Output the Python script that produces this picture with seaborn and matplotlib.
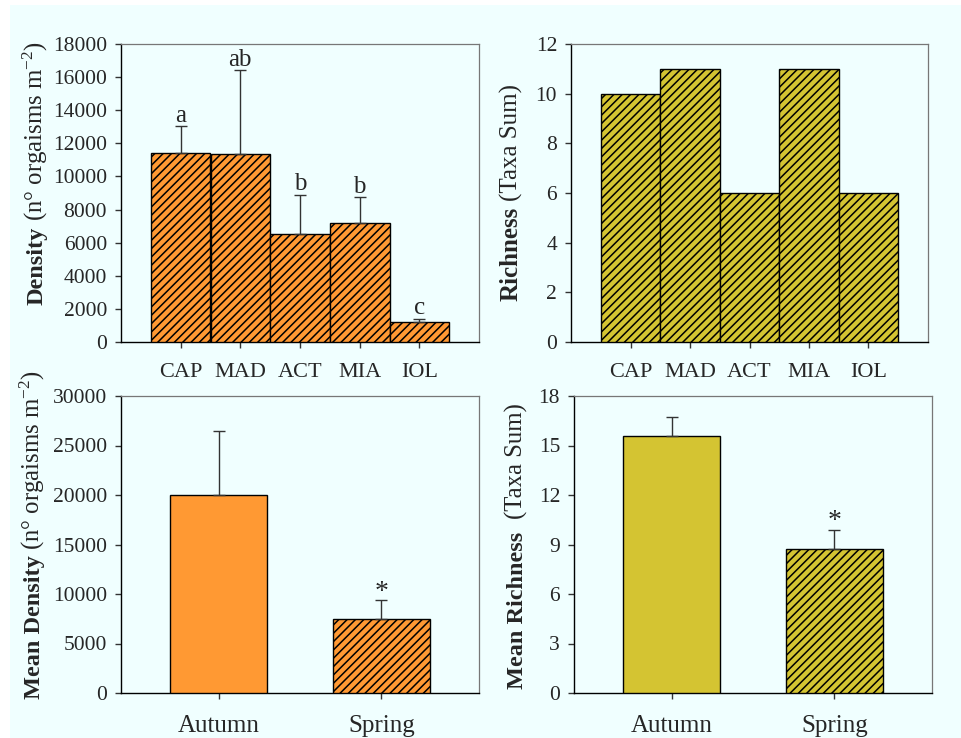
import numpy as np
import pandas as pd
import matplotlib
matplotlib.use("Agg")
import matplotlib.pyplot as plt
import seaborn as sns
from matplotlib.patches import Rectangle

# ---------------- data ----------------
sites = ["CAP", "MAD", "ACT", "MIA", "IOL"]
density = [11430, 11380, 6500, 7210, 1210]
density_err = [1620, 5020, 2400, 1530, 200]
density_letters = ["a", "ab", "b", "b", "c"]
richness = [10, 11, 6, 11, 6]

seasons = ["Autumn", "Spring"]
mean_density = [20000, 7500]
mean_density_err = [6500, 1900]
mean_richness = [15.55, 8.75]
mean_richness_err = [1.2, 1.15]
season_marks = ["", "*"]

ORANGE = "#FF9933"
OLIVE = "#D4C432"
BG = "#F0FFFF"

sns.set_style("white")
plt.rcParams["font.family"] = ["Liberation Serif", "DejaVu Serif"]
plt.rcParams["mathtext.fontset"] = "custom"
plt.rcParams["mathtext.rm"] = "Liberation Serif"
plt.rcParams["mathtext.it"] = "Liberation Serif:italic"
plt.rcParams["mathtext.bf"] = "Liberation Serif:bold"
plt.rcParams["hatch.linewidth"] = 1.1

W, H = 961, 738
fig = plt.figure(figsize=(W / 100, H / 100), dpi=100)
fig.patch.set_facecolor("white")
fig.add_artist(Rectangle((10 / W, 0), 1 - 10 / W, 1 - 5 / H, transform=fig.transFigure,
                         facecolor=BG, edgecolor="none", zorder=0))


def make_ax(l, r, t, b):
    return fig.add_axes([l / W, (H - b) / H, (r - l) / W, (b - t) / H])


def style(ax):
    ax.set_facecolor(BG)
    for s in ["left", "bottom"]:
        ax.spines[s].set_color("black")
        ax.spines[s].set_linewidth(1.0)
    for s in ["top", "right"]:
        ax.spines[s].set_color("#777777")
        ax.spines[s].set_linewidth(0.9)
    ax.tick_params(axis="both", which="both", direction="out", length=4, width=1,
                   color="#333333", left=True, bottom=True, right=False, top=False)
    ax.tick_params(axis="y", labelsize=15.5, pad=6)
    ax.set_xlabel("")
    ax.set_ylabel("")


def upper_err(ax, x, y, e):
    ax.errorbar(x, y, yerr=[np.zeros(len(e)), e], fmt="none", ecolor="#333333",
                elinewidth=1.0, capsize=4.5, capthick=1.0, zorder=5)


def two_part_label(x_px, bold_end_px, rest_start_px, bold, rest, bsize=17.5, rsize=17.8):
    fig.text(x_px / W, (H - bold_end_px) / H, bold, rotation=90, rotation_mode="anchor",
             ha="right", va="baseline", fontsize=bsize, fontweight="bold")
    fig.text(x_px / W, (H - rest_start_px) / H, rest, rotation=90, rotation_mode="anchor",
             ha="left", va="baseline", fontsize=rsize)


# ---- top left: density per site ----
ax1 = make_ax(121, 479, 44, 342)
sns.barplot(x=sites, y=density, ax=ax1, width=1.0, color=ORANGE, saturation=1,
            edgecolor="black", linewidth=1.0, hatch="////", errorbar=None, zorder=3)
upper_err(ax1, np.arange(len(sites)), density, density_err)
for i, (v, e, lab) in enumerate(zip(density, density_err, density_letters)):
    ax1.annotate(lab, (i, v + e), xytext=(0, 3), textcoords="offset points",
                 ha="center", va="baseline", fontsize=18)
ax1.set_xlim(-1, len(sites))
ax1.set_ylim(0, 18000)
ax1.set_yticks(np.arange(0, 18001, 2000))
style(ax1)
ax1.tick_params(axis="x", labelsize=16, pad=11)
two_part_label(43, 227, 221, "Density", "(n° orgaisms m$^{-2}$)")

# ---- top right: richness per site ----
ax2 = make_ax(571, 928, 44, 342)
sns.barplot(x=sites, y=richness, ax=ax2, width=1.0, color=OLIVE, saturation=1,
            edgecolor="black", linewidth=1.0, hatch="////", errorbar=None, zorder=3)
ax2.set_xlim(-1, len(sites))
ax2.set_ylim(0, 12)
ax2.set_yticks(np.arange(0, 13, 2))
style(ax2)
ax2.tick_params(axis="x", labelsize=16, pad=11)
two_part_label(518, 207, 201, "Richness", "(Taxa Sum)", bsize=18, rsize=18)

# ---- bottom left: mean density per season ----
ax3 = make_ax(121, 479, 396, 693)
sns.barplot(x=seasons, y=mean_density, ax=ax3, width=0.6, color=ORANGE, saturation=1,
            edgecolor="black", linewidth=1.0, errorbar=None, zorder=3)
ax3.patches[1].set_hatch("////")
upper_err(ax3, np.arange(len(seasons)), mean_density, mean_density_err)
for i, (v, e, lab) in enumerate(zip(mean_density, mean_density_err, season_marks)):
    if lab:
        ax3.annotate(lab, (i, v + e), xytext=(0, 1), textcoords="offset points",
                     ha="center", va="baseline", fontsize=20)
ax3.set_xlim(-0.6, 1.6)
ax3.set_ylim(0, 30000)
ax3.set_yticks(np.arange(0, 30001, 5000))
style(ax3)
ax3.tick_params(axis="x", labelsize=18, pad=12)
two_part_label(40, 555, 550, "Mean Density", "(n° orgaisms m$^{-2}$)")

# ---- bottom right: mean richness per season ----
ax4 = make_ax(574, 932, 396, 693)
sns.barplot(x=seasons, y=mean_richness, ax=ax4, width=0.6, color=OLIVE, saturation=1,
            edgecolor="black", linewidth=1.0, errorbar=None, zorder=3)
ax4.patches[1].set_hatch("////")
upper_err(ax4, np.arange(len(seasons)), mean_richness, mean_richness_err)
for i, (v, e, lab) in enumerate(zip(mean_richness, mean_richness_err, season_marks)):
    if lab:
        ax4.annotate(lab, (i, v + e), xytext=(0, 1), textcoords="offset points",
                     ha="center", va="baseline", fontsize=20)
ax4.set_xlim(-0.6, 1.6)
ax4.set_ylim(0, 18)
ax4.set_yticks(np.arange(0, 19, 3))
style(ax4)
ax4.tick_params(axis="x", labelsize=18, pad=12)
two_part_label(523, 532, 519, "Mean Richness", "(Taxa Sum)")

fig.savefig("out.png", dpi=100, facecolor=fig.get_facecolor())
